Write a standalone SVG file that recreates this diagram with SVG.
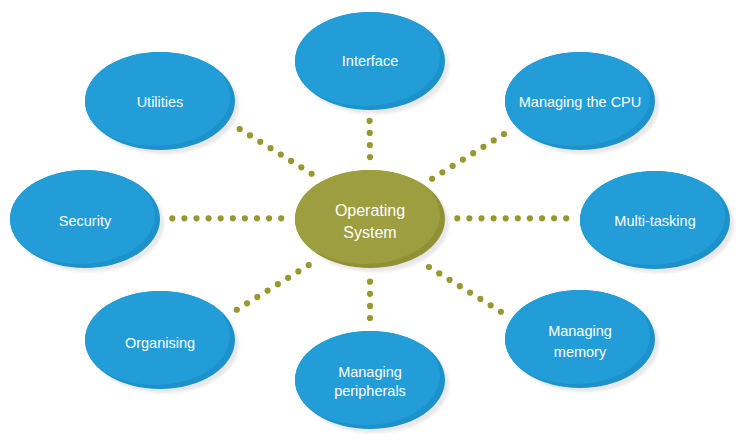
<svg xmlns="http://www.w3.org/2000/svg" xmlns:xlink="http://www.w3.org/1999/xlink" width="740" height="440" viewBox="0 0 740 440">
  <style>
    .halo { fill: #000; opacity: 0.09; }
    .blue { --rim: #1d91ca; --face: #229dd8; }
    .olive { --rim: #909135; --face: #9d9e3f; }
    .rim { fill: var(--rim); }
    .face { fill: var(--face); }
    .label { font-family: "Liberation Sans", "Open Sans", sans-serif; font-size: 14.5px; fill: #ffffff; text-anchor: middle; }
    .big { font-size: 16px; }
    .dots { fill: none; stroke: #989830; stroke-width: 6.2; stroke-linecap: round; stroke-dasharray: 0 12.1; }
  </style>
  <defs>
    <filter id="soft" x="-20%" y="-20%" width="140%" height="140%">
      <feGaussianBlur stdDeviation="1.6"/>
    </filter>
    <clipPath id="oval">
      <ellipse cx="0" cy="0" rx="75" ry="49"/>
    </clipPath>
    <!-- shared oval: soft drop shadow, darker rim at the lower right, lit face -->
    <g id="blob">
      <ellipse class="halo" cx="4" cy="4" rx="75" ry="49" filter="url(#soft)"/>
      <ellipse class="rim" cx="0" cy="0" rx="75" ry="49"/>
      <g clip-path="url(#oval)">
        <ellipse class="face" cx="-5" cy="-4" rx="75" ry="49"/>
      </g>
    </g>
  </defs>

  <rect width="740" height="440" fill="#ffffff"/>

  <!-- dotted connectors -->
  <g id="connectors">
    <path class="dots" d="M172.3 218.3 H281.8"/>
    <path class="dots" d="M457.3 218.3 H566.8"/>
    <path class="dots" d="M369.6 120.8 L370 157.3"/>
    <path class="dots" d="M370 281.7 V318.2"/>
    <path class="dots" d="M239.7 129 L312 174"/>
    <path class="dots" d="M504 134 L431.7 179"/>
    <path class="dots" d="M308.7 265 L236.4 310"/>
    <path class="dots" d="M429 267 L501.3 312"/>
  </g>

  <g id="interface" class="blue" transform="translate(370 61)">
    <use xlink:href="#blob"/>
    <text class="label" x="0" y="5">Interface</text>
  </g>

  <g id="utilities" class="blue" transform="translate(160 101)">
    <use xlink:href="#blob"/>
    <text class="label" x="0" y="6">Utilities</text>
  </g>

  <g id="managing-cpu" class="blue" transform="translate(580 101)">
    <use xlink:href="#blob"/>
    <text class="label" x="0" y="6">Managing the CPU</text>
  </g>

  <g id="security" class="blue" transform="translate(85 219)">
    <use xlink:href="#blob"/>
    <text class="label" x="0" y="7">Security</text>
  </g>

  <g id="multi-tasking" class="blue" transform="translate(655 220)">
    <use xlink:href="#blob"/>
    <text class="label" x="0" y="6">Multi-tasking</text>
  </g>

  <g id="organising" class="blue" transform="translate(160 340)">
    <use xlink:href="#blob"/>
    <text class="label" x="0" y="8">Organising</text>
  </g>

  <g id="managing-peripherals" class="blue" transform="translate(370 380)">
    <use xlink:href="#blob"/>
    <text class="label" x="0" y="-3">Managing</text>
    <text class="label" x="0" y="16">peripherals</text>
  </g>

  <g id="managing-memory" class="blue" transform="translate(580 339)">
    <use xlink:href="#blob"/>
    <text class="label" x="0" y="-3">Managing</text>
    <text class="label" x="0" y="18">memory</text>
  </g>

  <g id="operating-system" class="olive" transform="translate(370 219)">
    <use xlink:href="#blob"/>
    <text class="label big" x="0" y="-3">Operating</text>
    <text class="label big" x="0" y="19">System</text>
  </g>
</svg>
